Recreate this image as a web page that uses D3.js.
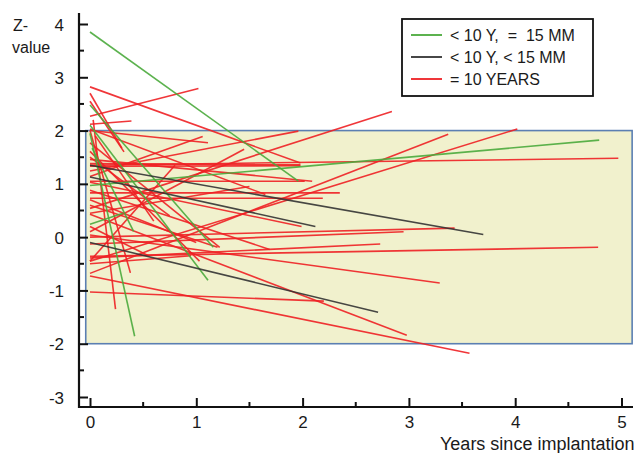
<!DOCTYPE html>
<html>
<head>
<meta charset="utf-8">
<script src="https://cdn.jsdelivr.net/npm/d3@7"></script>
<style>
  body { margin: 0; background: #fff; }
  svg text { font-family: "Liberation Sans", Arial, sans-serif; fill: #1a1a1a; }
</style>
</head>
<body>
<svg width="635" height="453"></svg>
<script>
// segments: [years0, z0, years1, z1]
var greenSegs = [
  [0, 3.85, 1.96, 1.05],
  [0, 2.48, 1.16, -0.19],
  [0, 2.1, 1.11, -0.81],
  [0, 1.95, 0.42, -1.86],
  [0.02, 1.67, 0.41, 0.11],
  [0, 0.97, 4.79, 1.82],
  [0, 0.24, 0.31, 0.45]
];
var blackSegs = [
  [0, 1.13, 2.12, 0.2],
  [0, 1.35, 3.70, 0.05],
  [0, -0.1, 2.71, -1.41]
];
var redSegs = [
  [0, 2.82, 1.98, 1.39],
  [0, 2.27, 1.02, 2.79],
  [0, 2.12, 0.39, 2.18],
  [0, 2.7, 0.3, 1.67],
  [0, 2.55, 0.32, 1.6],
  [0.03, 2.2, 0.24, -1.35],
  [0, 2.0, 0.38, -0.67],
  [0, 2.0, 1.11, 1.77],
  [0, 1.14, 1.06, 1.89],
  [0, 1.24, 1.96, 1.99],
  [0, 0.54, 2.84, 2.36],
  [0, -0.68, 3.37, 1.93],
  [0, -0.45, 4.02, 2.03],
  [0, 1.35, 4.97, 1.48],
  [0, 1.38, 1.98, 1.36],
  [0, 1.33, 1.98, 1.34],
  [0, 1.05, 2.02, 1.05],
  [0, 1.46, 2.09, 1.05],
  [0, 0.83, 2.35, 0.83],
  [0, 0.73, 2.19, 0.73],
  [0, 1.03, 1.99, 0.2],
  [0, -0.13, 2.95, 0.1],
  [0, 0.0, 3.43, 0.17],
  [0, -0.39, 2.73, -0.13],
  [0, -0.36, 4.78, -0.19],
  [0, 0.04, 3.29, -0.86],
  [0, 0.43, 2.98, -1.84],
  [0, -0.73, 3.57, -2.18],
  [0, -1.03, 2.2, -1.2],
  [0, 0.88, 1.69, -0.23],
  [0, 0.6, 1.2, -0.19],
  [0, 2.03, 1.65, 0.8],
  [0, 1.61, 1.03, -0.45],
  [0, 1.77, 1.22, -0.19],
  [0, -0.45, 0.8, 1.35],
  [0, 0.1, 1.45, 1.65],
  [0, 0.45, 1.5, 0.95],
  [0, 1.5, 0.75, 0.4],
  [0, 0.7, 1.0, -0.1],
  [0, -0.5, 0.95, -0.35],
  [0, 0.2, 0.55, -0.35],
  [0.05, 1.9, 0.6, 0.3]
];
var legendLabels = ["< 10 Y,  =  15 MM", "< 10 Y, < 15 MM", "= 10 YEARS"];
var legendColors = ["#4aaa3c", "#333333", "#ee2024"];
var xTicks = [0, 1, 2, 3, 4, 5];
var yTicks = [-3, -2, -1, 0, 1, 2, 3, 4];
var normalBand = [-0.04, 5.1, -2, 2];

var svg = d3.select("svg"),
  x = d3.scaleLinear().domain([0, 5]).range([90, 621.5]),
  y = d3.scaleLinear().domain([-3, 4]).range([397, 24]);

// normal range box
svg.append("rect")
  .attr("x", x(normalBand[0]))
  .attr("y", y(normalBand[3]))
  .attr("width", x(normalBand[1]) - x(normalBand[0]))
  .attr("height", y(normalBand[2]) - y(normalBand[3]))
  .attr("fill", "#f1f1cd")
  .attr("stroke", "#5b7fb2")
  .attr("stroke-width", 1.6);

function drawSegs(data, color) {
  svg.append("g").selectAll("line")
    .data(data).enter().append("line")
    .attr("x1", function(d) { return x(d[0]); })
    .attr("y1", function(d) { return y(d[1]); })
    .attr("x2", function(d) { return x(d[2]); })
    .attr("y2", function(d) { return y(d[3]); })
    .attr("stroke", color)
    .attr("stroke-width", 1.6)
    .attr("stroke-opacity", 0.9);
}
drawSegs(redSegs, legendColors[2]);
drawSegs(greenSegs, legendColors[0]);
drawSegs(blackSegs, legendColors[1]);

// axes (plain hyphen for negatives, like the original)
var fmt = function(d) { return String(d); };
var xAxis = d3.axisBottom(x).tickValues(xTicks).tickSize(-9).tickPadding(9).tickFormat(fmt),
  yAxis = d3.axisLeft(y).tickValues(yTicks).tickSize(-9).tickPadding(15).tickFormat(fmt);

var gx = svg.append("g").attr("transform", "translate(0,407)").call(xAxis);
var gy = svg.append("g").attr("transform", "translate(79,0)").call(yAxis);
[gx, gy].forEach(function(g) {
  g.select(".domain").remove();
  g.selectAll(".tick line").attr("stroke", "#111").attr("stroke-width", 2);
  g.selectAll(".tick text").attr("font-size", 17).attr("fill", "#1a1a1a");
});
gy.selectAll(".tick text").attr("dy", "0.36em");

// minor ticks
svg.append("g").selectAll("line")
  .data(d3.range(0.5, 5.1, 1)).enter().append("line")
  .attr("x1", function(d) { return x(d); }).attr("x2", function(d) { return x(d); })
  .attr("y1", 407).attr("y2", 402)
  .attr("stroke", "#111").attr("stroke-width", 2);
svg.append("g").selectAll("line")
  .data(d3.range(-2.5, 4, 1)).enter().append("line")
  .attr("x1", 79).attr("x2", 84)
  .attr("y1", function(d) { return y(d); }).attr("y2", function(d) { return y(d); })
  .attr("stroke", "#111").attr("stroke-width", 2);

// axis lines
svg.append("path")
  .attr("d", "M79,13V407H633")
  .attr("fill", "none")
  .attr("stroke", "#111")
  .attr("stroke-width", 2.2);

// axis titles
svg.append("text").attr("x", 13).attr("y", 31).attr("font-size", 16).text("Z-");
svg.append("text").attr("x", 12).attr("y", 53).attr("font-size", 16).text("value");
svg.append("text").attr("x", 440).attr("y", 450).attr("font-size", 18).text("Years since implantation");

// legend
var legend = svg.append("g");
legend.append("rect")
  .attr("x", 402).attr("y", 19).attr("width", 191).attr("height", 77)
  .attr("fill", "#fff").attr("stroke", "#111").attr("stroke-width", 1.8);
legendLabels.forEach(function(t, i) {
  var ly = 35 + i * 22;
  legend.append("line")
    .attr("x1", 411).attr("x2", 442).attr("y1", ly).attr("y2", ly)
    .attr("stroke", legendColors[i]).attr("stroke-width", 1.8);
  legend.append("text")
    .attr("x", 450).attr("y", ly + 6)
    .attr("font-size", 16)
    .style("white-space", "pre")
    .text(t);
});
</script>
</body>
</html>
